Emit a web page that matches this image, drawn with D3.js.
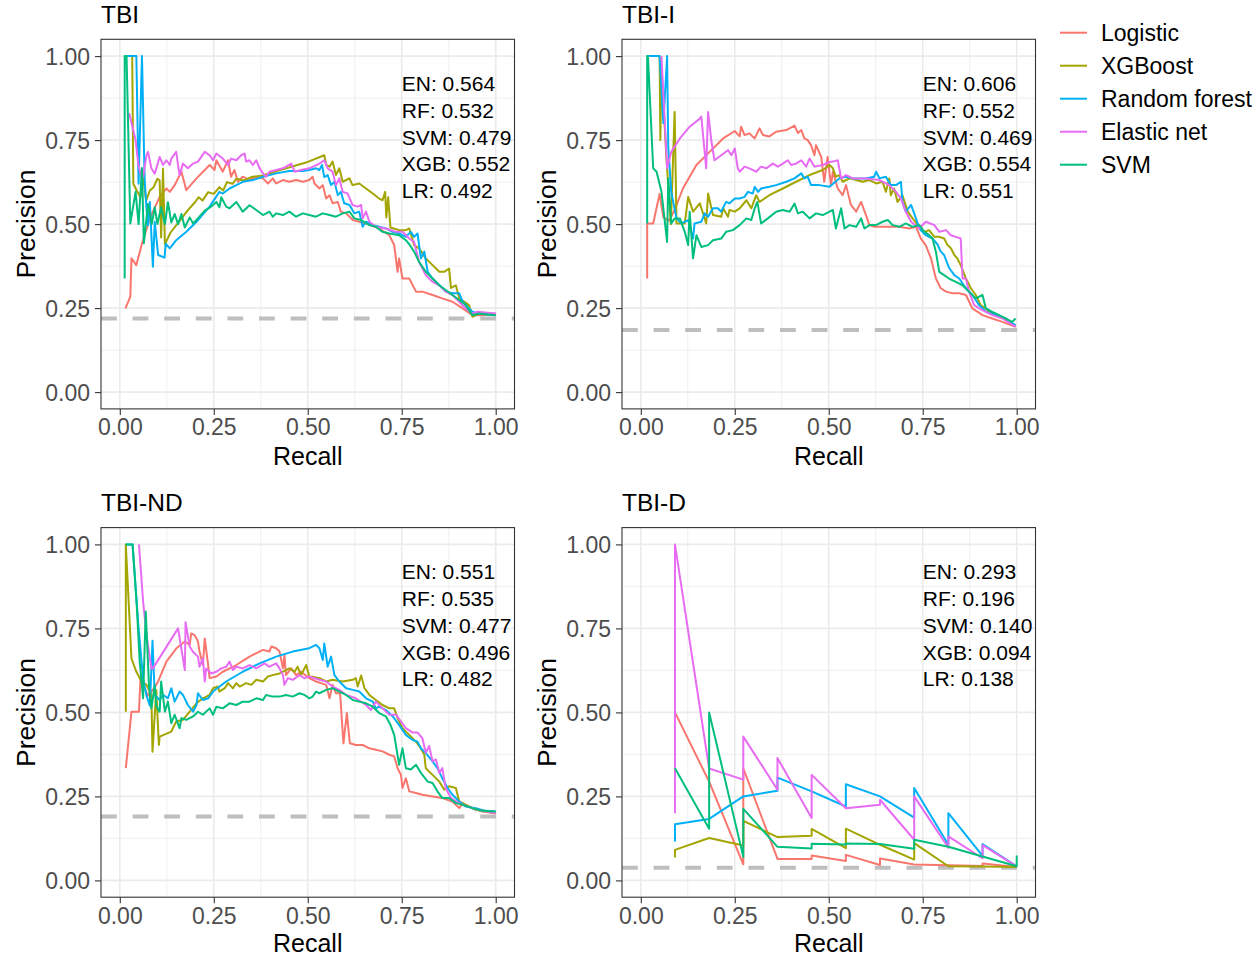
<!DOCTYPE html>
<html><head><meta charset="utf-8">
<script src="https://cdn.jsdelivr.net/npm/d3@7"></script>
<style>
body{margin:0;background:#fff;}
svg{display:block;font-family:"Liberation Sans",Arial,Helvetica,sans-serif;}
</style>
</head><body>
<svg id="chart" width="1260" height="957"></svg>
<script>
// ---------- categories / labels ----------
const modelNames = ["Logistic", "XGBoost", "Random forest", "Elastic net", "SVM"];
const modelColors = ["#F8766D", "#A3A500", "#00B0F6", "#E76BF3", "#00BF7D"];
const panelTitles = ["TBI", "TBI-I", "TBI-ND", "TBI-D"];
const baselines = [0.219, 0.185, 0.19, 0.038];
const tickValues = [0, 0.25, 0.5, 0.75, 1];
const tickLabels = ["0.00", "0.25", "0.50", "0.75", "1.00"];
const minorTicks = [0.125, 0.375, 0.625, 0.875];
const tbiScores = ["EN: 0.564", "RF: 0.532", "SVM: 0.479", "XGB: 0.552", "LR: 0.492"];
const tbiIScores = ["EN: 0.606", "RF: 0.552", "SVM: 0.469", "XGB: 0.554", "LR: 0.551"];
const tbiNDScores = ["EN: 0.551", "RF: 0.535", "SVM: 0.477", "XGB: 0.496", "LR: 0.482"];
const tbiDScores = ["EN: 0.293", "RF: 0.196", "SVM: 0.140", "XGB: 0.094", "LR: 0.138"];

// ---------- TBI: [recall, precision] ----------
const tbi_LR = [[0.015,0.249],[0.028,0.284],[0.031,0.398],[0.044,0.378],[0.059,0.442],[0.08,0.517],[0.106,0.581],[0.124,0.606],[0.133,0.596],[0.146,0.616],[0.155,0.636],[0.164,0.656],[0.177,0.601],[0.204,0.636],[0.239,0.676],[0.252,0.661],[0.257,0.69],[0.274,0.656],[0.288,0.69],[0.296,0.641],[0.305,0.661],[0.314,0.626],[0.327,0.641],[0.345,0.631],[0.363,0.641],[0.381,0.636],[0.394,0.621],[0.407,0.636],[0.416,0.621],[0.434,0.631],[0.451,0.626],[0.469,0.631],[0.487,0.626],[0.504,0.631],[0.513,0.641],[0.518,0.621],[0.531,0.606],[0.54,0.616],[0.549,0.576],[0.558,0.586],[0.566,0.562],[0.58,0.566],[0.588,0.537],[0.602,0.532],[0.62,0.512],[0.655,0.502],[0.69,0.487],[0.717,0.467],[0.73,0.4375],[0.739,0.358],[0.743,0.398],[0.752,0.338],[0.77,0.338],[0.788,0.299],[0.805,0.299],[0.832,0.289],[0.858,0.279],[0.885,0.269],[0.912,0.249],[0.938,0.229],[0.965,0.229],[1.0,0.234]];
const tbi_XGB = [[0.026,1.0],[0.033,1.0],[0.036,0.62],[0.045,0.60],[0.055,0.58],[0.062,0.64],[0.07,0.57],[0.08,0.6],[0.09,0.61],[0.1,0.635],[0.106,0.63],[0.11,0.46],[0.115,0.665],[0.12,0.44],[0.135,0.475],[0.16,0.51],[0.18,0.54],[0.2,0.565],[0.21,0.58],[0.22,0.57],[0.235,0.595],[0.25,0.59],[0.265,0.61],[0.275,0.6],[0.285,0.625],[0.3,0.62],[0.31,0.635],[0.33,0.63],[0.35,0.64],[0.38,0.645],[0.41,0.655],[0.44,0.665],[0.47,0.675],[0.5,0.685],[0.544,0.705],[0.549,0.676],[0.558,0.671],[0.566,0.686],[0.575,0.646],[0.584,0.666],[0.593,0.626],[0.611,0.636],[0.619,0.616],[0.637,0.621],[0.655,0.606],[0.673,0.591],[0.69,0.576],[0.699,0.571],[0.706,0.596],[0.709,0.52],[0.714,0.58],[0.72,0.49],[0.743,0.482],[0.761,0.482],[0.77,0.487],[0.783,0.4375],[0.796,0.428],[0.814,0.398],[0.832,0.378],[0.85,0.358],[0.863,0.358],[0.876,0.368],[0.881,0.31],[0.894,0.318],[0.903,0.279],[0.929,0.259],[0.938,0.224],[0.956,0.234],[1.0,0.229]];
const tbi_RF = [[0.013,1.0],[0.044,1.0],[0.05,0.62],[0.059,1.0],[0.066,0.636],[0.071,0.547],[0.075,0.497],[0.08,0.566],[0.088,0.373],[0.093,0.507],[0.102,0.408],[0.119,0.40],[0.122,0.442],[0.133,0.428],[0.15,0.452],[0.177,0.477],[0.204,0.507],[0.239,0.552],[0.265,0.596],[0.274,0.591],[0.292,0.606],[0.31,0.616],[0.327,0.626],[0.354,0.631],[0.381,0.641],[0.416,0.651],[0.451,0.658],[0.487,0.658],[0.504,0.661],[0.522,0.666],[0.531,0.661],[0.538,0.676],[0.544,0.64],[0.553,0.646],[0.562,0.616],[0.571,0.626],[0.58,0.586],[0.588,0.596],[0.597,0.562],[0.611,0.557],[0.624,0.532],[0.637,0.537],[0.646,0.492],[0.655,0.507],[0.673,0.497],[0.69,0.492],[0.708,0.487],[0.726,0.477],[0.743,0.472],[0.761,0.462],[0.774,0.477],[0.783,0.462],[0.792,0.472],[0.801,0.398],[0.81,0.418],[0.819,0.358],[0.832,0.338],[0.85,0.318],[0.867,0.299],[0.885,0.294],[0.903,0.294],[0.912,0.269],[0.925,0.254],[0.938,0.239],[0.951,0.234],[1.0,0.229]];
const tbi_EN = [[0.025,0.83],[0.042,0.75],[0.049,0.68],[0.058,0.636],[0.062,0.64],[0.071,0.705],[0.075,0.715],[0.084,0.666],[0.093,0.65],[0.106,0.70],[0.115,0.676],[0.124,0.69],[0.133,0.676],[0.137,0.695],[0.15,0.715],[0.159,0.646],[0.168,0.68],[0.181,0.666],[0.195,0.68],[0.208,0.686],[0.226,0.715],[0.239,0.705],[0.248,0.69],[0.257,0.71],[0.274,0.695],[0.288,0.676],[0.296,0.695],[0.31,0.69],[0.323,0.705],[0.332,0.71],[0.336,0.686],[0.345,0.69],[0.354,0.676],[0.363,0.69],[0.372,0.666],[0.381,0.651],[0.389,0.641],[0.398,0.656],[0.416,0.661],[0.434,0.666],[0.456,0.68],[0.465,0.656],[0.482,0.661],[0.504,0.666],[0.531,0.68],[0.544,0.69],[0.553,0.666],[0.566,0.656],[0.575,0.616],[0.584,0.636],[0.593,0.596],[0.606,0.591],[0.619,0.557],[0.633,0.552],[0.642,0.557],[0.646,0.517],[0.655,0.537],[0.664,0.507],[0.681,0.492],[0.708,0.487],[0.735,0.477],[0.752,0.477],[0.77,0.457],[0.783,0.447],[0.796,0.388],[0.814,0.348],[0.832,0.328],[0.85,0.318],[0.867,0.299],[0.885,0.289],[0.903,0.269],[0.92,0.249],[0.938,0.234],[0.951,0.239],[1.0,0.234]];
const tbi_SVM = [[0.013,0.338],[0.013,1.0],[0.018,1.0],[0.028,0.502],[0.042,0.596],[0.05,0.5],[0.059,0.667],[0.064,0.443],[0.075,0.56],[0.085,0.50],[0.093,0.55],[0.1,0.50],[0.11,0.55],[0.12,0.50],[0.128,0.565],[0.137,0.505],[0.146,0.53],[0.155,0.50],[0.164,0.53],[0.173,0.49],[0.186,0.52],[0.195,0.502],[0.21,0.52],[0.226,0.54],[0.243,0.552],[0.257,0.566],[0.265,0.55],[0.27,0.58],[0.283,0.552],[0.292,0.547],[0.31,0.566],[0.327,0.537],[0.345,0.556],[0.363,0.542],[0.381,0.527],[0.398,0.537],[0.407,0.522],[0.416,0.532],[0.434,0.527],[0.451,0.537],[0.469,0.522],[0.487,0.532],[0.504,0.527],[0.522,0.522],[0.54,0.532],[0.558,0.527],[0.575,0.522],[0.593,0.532],[0.611,0.537],[0.624,0.517],[0.642,0.512],[0.664,0.497],[0.681,0.492],[0.699,0.477],[0.717,0.472],[0.743,0.467],[0.761,0.452],[0.77,0.44],[0.783,0.418],[0.796,0.388],[0.814,0.358],[0.832,0.338],[0.85,0.318],[0.867,0.304],[0.885,0.289],[0.903,0.274],[0.92,0.259],[0.938,0.229],[0.956,0.234],[1.0,0.229]];

// ---------- TBI-I ----------
const tbiI_LR = [[0.017,0.338],[0.017,0.502],[0.033,0.502],[0.05,0.59],[0.06,0.52],[0.075,0.51],[0.09,0.542],[0.112,0.606],[0.148,0.676],[0.183,0.715],[0.219,0.755],[0.25,0.777],[0.263,0.761],[0.267,0.79],[0.276,0.765],[0.289,0.77],[0.303,0.755],[0.316,0.785],[0.325,0.765],[0.342,0.761],[0.36,0.775],[0.387,0.78],[0.409,0.793],[0.418,0.771],[0.427,0.78],[0.435,0.755],[0.444,0.75],[0.453,0.735],[0.462,0.705],[0.466,0.735],[0.48,0.70],[0.488,0.626],[0.497,0.70],[0.506,0.616],[0.511,0.656],[0.524,0.606],[0.537,0.586],[0.546,0.616],[0.559,0.557],[0.573,0.537],[0.586,0.566],[0.599,0.527],[0.608,0.497],[0.621,0.492],[0.652,0.492],[0.688,0.492],[0.714,0.487],[0.732,0.492],[0.745,0.457],[0.758,0.4375],[0.772,0.398],[0.785,0.338],[0.798,0.309],[0.812,0.299],[0.829,0.294],[0.847,0.294],[0.865,0.289],[0.882,0.249],[0.896,0.239],[0.909,0.229],[0.935,0.219],[0.962,0.209],[0.997,0.194]];
const tbiI_XGB = [[0.017,1.0],[0.05,1.0],[0.052,0.75],[0.055,0.97],[0.068,0.70],[0.075,0.58],[0.08,0.50],[0.09,0.834],[0.095,0.502],[0.117,0.502],[0.126,0.581],[0.139,0.537],[0.157,0.562],[0.174,0.502],[0.179,0.591],[0.192,0.527],[0.214,0.522],[0.219,0.547],[0.232,0.522],[0.236,0.542],[0.25,0.537],[0.263,0.547],[0.281,0.571],[0.294,0.547],[0.307,0.586],[0.316,0.566],[0.342,0.586],[0.378,0.606],[0.413,0.626],[0.449,0.646],[0.484,0.661],[0.502,0.676],[0.511,0.666],[0.519,0.641],[0.528,0.646],[0.537,0.626],[0.555,0.636],[0.573,0.631],[0.59,0.626],[0.608,0.631],[0.626,0.621],[0.643,0.626],[0.652,0.596],[0.661,0.636],[0.665,0.586],[0.674,0.606],[0.683,0.566],[0.696,0.586],[0.71,0.537],[0.723,0.517],[0.741,0.492],[0.754,0.477],[0.767,0.482],[0.781,0.462],[0.794,0.462],[0.807,0.457],[0.816,0.4375],[0.825,0.428],[0.834,0.408],[0.842,0.398],[0.851,0.378],[0.865,0.338],[0.878,0.309],[0.891,0.289],[0.904,0.259],[0.918,0.249],[0.927,0.239],[0.94,0.234],[0.958,0.224],[0.971,0.219],[0.984,0.204],[0.997,0.199]];
const tbiI_RF = [[0.017,1.0],[0.05,1.0],[0.06,0.8],[0.07,1.0],[0.073,0.73],[0.081,0.596],[0.095,0.517],[0.108,0.502],[0.126,0.512],[0.139,0.457],[0.143,0.502],[0.161,0.507],[0.17,0.532],[0.179,0.522],[0.192,0.547],[0.205,0.547],[0.214,0.537],[0.227,0.566],[0.236,0.562],[0.25,0.576],[0.263,0.576],[0.276,0.581],[0.285,0.596],[0.298,0.591],[0.303,0.611],[0.312,0.596],[0.32,0.606],[0.342,0.611],[0.36,0.616],[0.387,0.626],[0.409,0.636],[0.427,0.651],[0.435,0.636],[0.444,0.641],[0.453,0.616],[0.475,0.616],[0.502,0.611],[0.528,0.636],[0.546,0.641],[0.564,0.636],[0.599,0.636],[0.621,0.641],[0.626,0.656],[0.635,0.636],[0.652,0.641],[0.665,0.616],[0.679,0.616],[0.692,0.626],[0.696,0.567],[0.705,0.537],[0.719,0.557],[0.732,0.517],[0.741,0.487],[0.758,0.467],[0.776,0.457],[0.789,0.44],[0.798,0.418],[0.807,0.408],[0.82,0.37],[0.834,0.348],[0.847,0.338],[0.865,0.309],[0.882,0.289],[0.9,0.259],[0.918,0.239],[0.944,0.229],[0.971,0.219],[0.997,0.199]];
const tbiI_EN = [[0.055,1.0],[0.07,0.666],[0.081,0.715],[0.104,0.755],[0.13,0.79],[0.157,0.814],[0.161,0.82],[0.174,0.666],[0.179,0.834],[0.188,0.745],[0.196,0.69],[0.214,0.705],[0.232,0.72],[0.241,0.705],[0.25,0.725],[0.258,0.666],[0.263,0.656],[0.276,0.671],[0.289,0.666],[0.307,0.656],[0.32,0.671],[0.334,0.666],[0.351,0.68],[0.365,0.671],[0.378,0.68],[0.391,0.69],[0.4,0.676],[0.413,0.68],[0.427,0.69],[0.44,0.671],[0.449,0.695],[0.462,0.671],[0.484,0.676],[0.502,0.685],[0.511,0.686],[0.524,0.69],[0.533,0.636],[0.546,0.646],[0.564,0.636],[0.599,0.636],[0.635,0.631],[0.661,0.616],[0.679,0.596],[0.692,0.576],[0.705,0.537],[0.719,0.507],[0.741,0.487],[0.758,0.507],[0.781,0.497],[0.794,0.477],[0.812,0.482],[0.825,0.467],[0.838,0.462],[0.851,0.457],[0.856,0.338],[0.865,0.338],[0.873,0.299],[0.887,0.259],[0.9,0.249],[0.918,0.239],[0.935,0.229],[0.962,0.219],[0.997,0.194]];
const tbiI_SVM = [[0.017,0.502],[0.017,1.0],[0.019,1.0],[0.033,0.666],[0.042,0.656],[0.055,0.596],[0.07,0.447],[0.073,0.636],[0.081,0.502],[0.09,0.517],[0.104,0.517],[0.117,0.477],[0.126,0.4375],[0.13,0.537],[0.139,0.398],[0.148,0.467],[0.161,0.432],[0.179,0.4375],[0.192,0.452],[0.214,0.457],[0.227,0.477],[0.245,0.482],[0.263,0.497],[0.281,0.517],[0.294,0.512],[0.303,0.547],[0.31,0.566],[0.32,0.502],[0.338,0.517],[0.36,0.537],[0.378,0.542],[0.396,0.537],[0.409,0.561],[0.418,0.532],[0.431,0.537],[0.449,0.517],[0.466,0.532],[0.484,0.527],[0.502,0.537],[0.511,0.542],[0.519,0.487],[0.533,0.547],[0.542,0.487],[0.555,0.497],[0.573,0.492],[0.586,0.517],[0.595,0.487],[0.608,0.497],[0.626,0.497],[0.643,0.507],[0.657,0.512],[0.67,0.497],[0.688,0.492],[0.705,0.502],[0.723,0.492],[0.741,0.497],[0.754,0.477],[0.767,0.467],[0.776,0.457],[0.785,0.418],[0.794,0.358],[0.807,0.348],[0.82,0.338],[0.838,0.328],[0.856,0.318],[0.873,0.299],[0.891,0.279],[0.909,0.289],[0.918,0.249],[0.935,0.239],[0.953,0.229],[0.971,0.219],[0.988,0.209],[0.997,0.219]];

// ---------- TBI-ND ----------
const tbiND_LR = [[0.016,0.334],[0.031,0.502],[0.051,0.502],[0.055,0.60],[0.075,0.55],[0.09,0.57],[0.102,0.592],[0.124,0.651],[0.15,0.69],[0.173,0.711],[0.186,0.701],[0.19,0.735],[0.199,0.73],[0.208,0.711],[0.212,0.681],[0.221,0.641],[0.226,0.72],[0.235,0.641],[0.239,0.602],[0.257,0.607],[0.274,0.621],[0.31,0.641],[0.345,0.666],[0.381,0.686],[0.398,0.681],[0.403,0.696],[0.416,0.691],[0.425,0.681],[0.434,0.631],[0.438,0.671],[0.442,0.611],[0.456,0.631],[0.469,0.611],[0.482,0.621],[0.504,0.602],[0.522,0.592],[0.549,0.582],[0.558,0.542],[0.566,0.582],[0.575,0.557],[0.586,0.557],[0.595,0.408],[0.604,0.498],[0.612,0.408],[0.628,0.403],[0.646,0.403],[0.664,0.393],[0.681,0.389],[0.699,0.384],[0.717,0.374],[0.73,0.369],[0.739,0.334],[0.748,0.314],[0.752,0.275],[0.761,0.304],[0.77,0.265],[0.788,0.26],[0.805,0.255],[0.832,0.25],[0.858,0.245],[0.885,0.235],[0.903,0.215],[0.912,0.23],[0.938,0.215],[0.965,0.205],[1.0,0.2]];
const tbiND_XGB = [[0.016,0.502],[0.016,1.0],[0.031,0.661],[0.044,0.621],[0.058,0.592],[0.071,0.582],[0.084,0.552],[0.087,0.383],[0.097,0.567],[0.104,0.403],[0.106,0.428],[0.137,0.443],[0.15,0.473],[0.168,0.478],[0.186,0.502],[0.204,0.527],[0.221,0.542],[0.239,0.552],[0.248,0.572],[0.261,0.577],[0.265,0.562],[0.279,0.572],[0.288,0.587],[0.301,0.572],[0.31,0.587],[0.319,0.577],[0.336,0.587],[0.35,0.582],[0.363,0.597],[0.381,0.592],[0.394,0.607],[0.407,0.611],[0.425,0.616],[0.451,0.631],[0.465,0.621],[0.473,0.636],[0.482,0.611],[0.496,0.641],[0.504,0.607],[0.513,0.606],[0.531,0.602],[0.549,0.592],[0.566,0.597],[0.593,0.592],[0.62,0.597],[0.628,0.602],[0.633,0.577],[0.642,0.61],[0.651,0.572],[0.664,0.552],[0.681,0.537],[0.699,0.522],[0.717,0.512],[0.73,0.512],[0.739,0.483],[0.752,0.453],[0.77,0.433],[0.788,0.413],[0.801,0.393],[0.81,0.374],[0.814,0.334],[0.832,0.314],[0.85,0.294],[0.863,0.27],[0.876,0.28],[0.894,0.275],[0.903,0.235],[0.92,0.225],[0.947,0.21],[0.973,0.205],[1.0,0.2]];
const tbiND_RF = [[0.016,1.0],[0.034,1.0],[0.05,0.75],[0.062,0.6],[0.071,0.55],[0.08,0.52],[0.087,0.713],[0.093,0.552],[0.106,0.537],[0.115,0.552],[0.128,0.542],[0.137,0.572],[0.146,0.532],[0.159,0.562],[0.168,0.552],[0.181,0.522],[0.195,0.502],[0.204,0.522],[0.208,0.557],[0.221,0.537],[0.235,0.542],[0.248,0.562],[0.283,0.592],[0.327,0.621],[0.372,0.646],[0.416,0.666],[0.46,0.681],[0.504,0.691],[0.522,0.701],[0.531,0.691],[0.54,0.656],[0.544,0.705],[0.553,0.636],[0.562,0.666],[0.571,0.611],[0.584,0.592],[0.602,0.572],[0.62,0.567],[0.637,0.562],[0.655,0.542],[0.673,0.532],[0.681,0.512],[0.69,0.517],[0.708,0.507],[0.726,0.488],[0.743,0.463],[0.761,0.433],[0.779,0.418],[0.792,0.413],[0.801,0.393],[0.814,0.379],[0.832,0.354],[0.845,0.334],[0.858,0.304],[0.872,0.275],[0.885,0.255],[0.903,0.235],[0.92,0.22],[0.947,0.215],[0.973,0.207],[1.0,0.205]];
const tbiND_EN = [[0.051,1.0],[0.062,0.83],[0.071,0.73],[0.084,0.631],[0.088,0.631],[0.155,0.75],[0.173,0.626],[0.175,0.768],[0.186,0.696],[0.195,0.68],[0.208,0.666],[0.212,0.636],[0.221,0.661],[0.226,0.592],[0.23,0.631],[0.243,0.616],[0.257,0.621],[0.27,0.631],[0.283,0.636],[0.292,0.651],[0.301,0.626],[0.31,0.636],[0.327,0.631],[0.345,0.641],[0.363,0.631],[0.385,0.646],[0.398,0.636],[0.416,0.646],[0.425,0.631],[0.434,0.611],[0.438,0.582],[0.447,0.602],[0.46,0.597],[0.478,0.611],[0.491,0.602],[0.504,0.607],[0.531,0.597],[0.549,0.592],[0.566,0.577],[0.584,0.567],[0.602,0.552],[0.628,0.542],[0.655,0.522],[0.668,0.507],[0.681,0.532],[0.699,0.512],[0.717,0.493],[0.735,0.493],[0.748,0.473],[0.761,0.453],[0.779,0.44],[0.792,0.44],[0.805,0.423],[0.814,0.38],[0.823,0.40],[0.832,0.354],[0.841,0.36],[0.85,0.32],[0.858,0.334],[0.867,0.275],[0.881,0.245],[0.894,0.235],[0.912,0.225],[0.938,0.215],[0.965,0.207],[1.0,0.2]];
const tbiND_SVM = [[0.016,1.0],[0.034,1.0],[0.045,0.82],[0.053,0.651],[0.062,0.542],[0.069,0.8],[0.078,0.572],[0.084,0.512],[0.093,0.58],[0.097,0.52],[0.106,0.502],[0.11,0.592],[0.12,0.502],[0.128,0.532],[0.137,0.468],[0.146,0.493],[0.159,0.453],[0.164,0.483],[0.177,0.478],[0.195,0.488],[0.208,0.502],[0.221,0.493],[0.239,0.512],[0.248,0.493],[0.257,0.517],[0.274,0.512],[0.292,0.527],[0.31,0.522],[0.327,0.532],[0.345,0.532],[0.363,0.542],[0.381,0.537],[0.389,0.552],[0.407,0.547],[0.425,0.547],[0.442,0.552],[0.46,0.547],[0.478,0.557],[0.491,0.552],[0.504,0.542],[0.513,0.547],[0.522,0.562],[0.531,0.557],[0.549,0.567],[0.566,0.572],[0.584,0.562],[0.602,0.552],[0.62,0.537],[0.637,0.532],[0.655,0.527],[0.673,0.517],[0.69,0.498],[0.708,0.488],[0.72,0.463],[0.73,0.433],[0.743,0.344],[0.752,0.393],[0.761,0.334],[0.774,0.33],[0.788,0.344],[0.801,0.32],[0.819,0.294],[0.832,0.29],[0.845,0.265],[0.858,0.245],[0.876,0.245],[0.894,0.23],[0.912,0.225],[0.938,0.215],[0.965,0.207],[1.0,0.205]];

// ---------- TBI-D ----------
const tbiD_LR = [[0.0909,0.5],[0.1818,0.294],[0.2727,0.048],[0.2727,0.333],[0.3636,0.064],[0.4545,0.064],[0.4545,0.074],[0.5455,0.058],[0.5455,0.076],[0.6364,0.046],[0.6364,0.065],[0.7273,0.047],[0.8182,0.045],[0.9091,0.043],[0.9091,0.05],[1.0,0.04]];
const tbiD_XGB = [[0.0909,0.068],[0.0909,0.091],[0.1818,0.126],[0.2727,0.104],[0.2727,0.177],[0.3636,0.129],[0.4545,0.133],[0.4545,0.153],[0.5455,0.096],[0.5455,0.154],[0.6364,0.106],[0.7273,0.062],[0.7273,0.111],[0.8182,0.042],[0.9091,0.041],[1.0,0.04]];
const tbiD_RF = [[0.0909,0.116],[0.0909,0.167],[0.1818,0.183],[0.2727,0.25],[0.3636,0.267],[0.3636,0.306],[0.4545,0.265],[0.5455,0.22],[0.5455,0.286],[0.6364,0.25],[0.7273,0.187],[0.7273,0.275],[0.8182,0.106],[0.8182,0.2],[0.9091,0.073],[0.9091,0.108],[1.0,0.042]];
const tbiD_EN = [[0.0909,0.2],[0.0909,1.0],[0.1818,0.333],[0.2727,0.30],[0.2727,0.428],[0.3636,0.27],[0.3636,0.364],[0.4545,0.186],[0.4545,0.314],[0.5455,0.215],[0.6364,0.225],[0.6364,0.24],[0.7273,0.121],[0.7273,0.25],[0.8182,0.097],[0.8182,0.131],[0.9091,0.066],[0.9091,0.105],[1.0,0.042]];
const tbiD_SVM = [[0.0909,0.334],[0.1818,0.154],[0.1818,0.5],[0.2727,0.07],[0.2727,0.213],[0.3636,0.1],[0.4545,0.095],[0.4545,0.109],[0.5455,0.107],[0.5455,0.11],[0.6364,0.108],[0.7273,0.094],[0.7273,0.121],[0.8182,0.1],[0.9091,0.071],[1.0,0.042],[1.0,0.074]];

// ---------- assemble (order = modelNames) ----------
const panelSeries = [
  [tbi_LR, tbi_XGB, tbi_RF, tbi_EN, tbi_SVM],
  [tbiI_LR, tbiI_XGB, tbiI_RF, tbiI_EN, tbiI_SVM],
  [tbiND_LR, tbiND_XGB, tbiND_RF, tbiND_EN, tbiND_SVM],
  [tbiD_LR, tbiD_XGB, tbiD_RF, tbiD_EN, tbiD_SVM]
];
const panelScores = [tbiScores, tbiIScores, tbiNDScores, tbiDScores];

const svg = d3.select("#chart");
svg.append("rect").attr("width", 1260).attr("height", 957).attr("fill", "#fff");

const panelW = 413.5, panelH = 369.6;
const panelPos = [[101, 39.3], [622, 39.3], [101, 527.6], [622, 527.6]];

panelPos.forEach(([left, top], i) => {
  const x = d3.scaleLinear().domain([-0.05, 1.05]).range([left, left + panelW]);
  const y = d3.scaleLinear().domain([-0.05, 1.05]).range([top + panelH, top]);
  const g = svg.append("g");

  g.append("rect").attr("x", left).attr("y", top).attr("width", panelW).attr("height", panelH).attr("fill", "#fff");

  // grid
  const grid = g.append("g");
  minorTicks.forEach(v => {
    grid.append("line").attr("x1", x(v)).attr("x2", x(v)).attr("y1", top).attr("y2", top + panelH)
      .attr("stroke", "#EBEBEB").attr("stroke-width", 0.8);
    grid.append("line").attr("x1", left).attr("x2", left + panelW).attr("y1", y(v)).attr("y2", y(v))
      .attr("stroke", "#EBEBEB").attr("stroke-width", 0.8);
  });
  tickValues.forEach(v => {
    grid.append("line").attr("x1", x(v)).attr("x2", x(v)).attr("y1", top).attr("y2", top + panelH)
      .attr("stroke", "#EBEBEB").attr("stroke-width", 1.6);
    grid.append("line").attr("x1", left).attr("x2", left + panelW).attr("y1", y(v)).attr("y2", y(v))
      .attr("stroke", "#EBEBEB").attr("stroke-width", 1.6);
  });

  const clipId = "clip" + i;
  svg.append("clipPath").attr("id", clipId).append("rect")
    .attr("x", left).attr("y", top).attr("width", panelW).attr("height", panelH);
  const plot = g.append("g").attr("clip-path", `url(#${clipId})`);

  // baseline (dashed)
  plot.append("line").attr("x1", left).attr("x2", left + panelW)
    .attr("y1", y(baselines[i])).attr("y2", y(baselines[i]))
    .attr("stroke", "#BEBEBE").attr("stroke-width", 4).attr("stroke-dasharray", "15.8,15.8");

  const line = d3.line().x(d => x(d[0])).y(d => y(d[1]));
  panelSeries[i].forEach((data, k) => {
    plot.append("path").datum(data).attr("d", line).attr("fill", "none")
      .attr("stroke", modelColors[k]).attr("stroke-width", 2).attr("stroke-linejoin", "round");
  });

  // annotation
  panelScores[i].forEach((t, k) => {
    g.append("text").attr("x", x(0.75)).attr("y", y(1) + 35 + k * 26.7)
      .attr("font-size", 21).attr("fill", "#000").text(t);
  });

  // border
  g.append("rect").attr("x", left).attr("y", top).attr("width", panelW).attr("height", panelH)
    .attr("fill", "none").attr("stroke", "#333333").attr("stroke-width", 1.1);

  // axes
  const ax = g.append("g").attr("transform", `translate(0,${top + panelH})`)
    .call(d3.axisBottom(x).tickValues(tickValues).tickFormat((d, j) => tickLabels[j]).tickSize(6).tickSizeOuter(0).tickPadding(4));
  const ay = g.append("g").attr("transform", `translate(${left},0)`)
    .call(d3.axisLeft(y).tickValues(tickValues).tickFormat((d, j) => tickLabels[j]).tickSize(6).tickSizeOuter(0).tickPadding(5));
  [ax, ay].forEach(a => {
    a.select(".domain").remove();
    a.selectAll(".tick line").attr("stroke", "#333333").attr("stroke-width", 1.1);
    a.selectAll(".tick text").attr("fill", "#4D4D4D").attr("font-size", 23)
      .attr("font-family", '"Liberation Sans",Arial,sans-serif');
  });
  ay.selectAll(".tick text").attr("dy", "0.36em");

  // axis titles (kept inside the 957px canvas, clear of tick labels)
  const recallY = Math.min(top + panelH + 56, 951.5);
  g.append("text").attr("x", left + panelW / 2).attr("y", recallY)
    .attr("text-anchor", "middle").attr("font-size", 25).attr("fill", "#000").text("Recall");
  g.append("text").attr("transform", `translate(${left - 66},${top + panelH / 2}) rotate(-90)`)
    .attr("text-anchor", "middle").attr("font-size", 26.5).attr("fill", "#000").text("Precision");

  // panel title
  g.append("text").attr("x", left).attr("y", top - 16.5)
    .attr("font-size", 24.5).attr("fill", "#000").text(panelTitles[i]);
});

// legend
const legend = svg.append("g");
modelNames.forEach((name, k) => {
  const cy = 32.7 + k * 33;
  legend.append("line").attr("x1", 1060).attr("x2", 1087).attr("y1", cy).attr("y2", cy)
    .attr("stroke", modelColors[k]).attr("stroke-width", 2);
  legend.append("text").attr("x", 1101).attr("y", cy + 8.2).attr("font-size", 23)
    .attr("fill", "#000").text(name);
});
</script>
</body></html>
